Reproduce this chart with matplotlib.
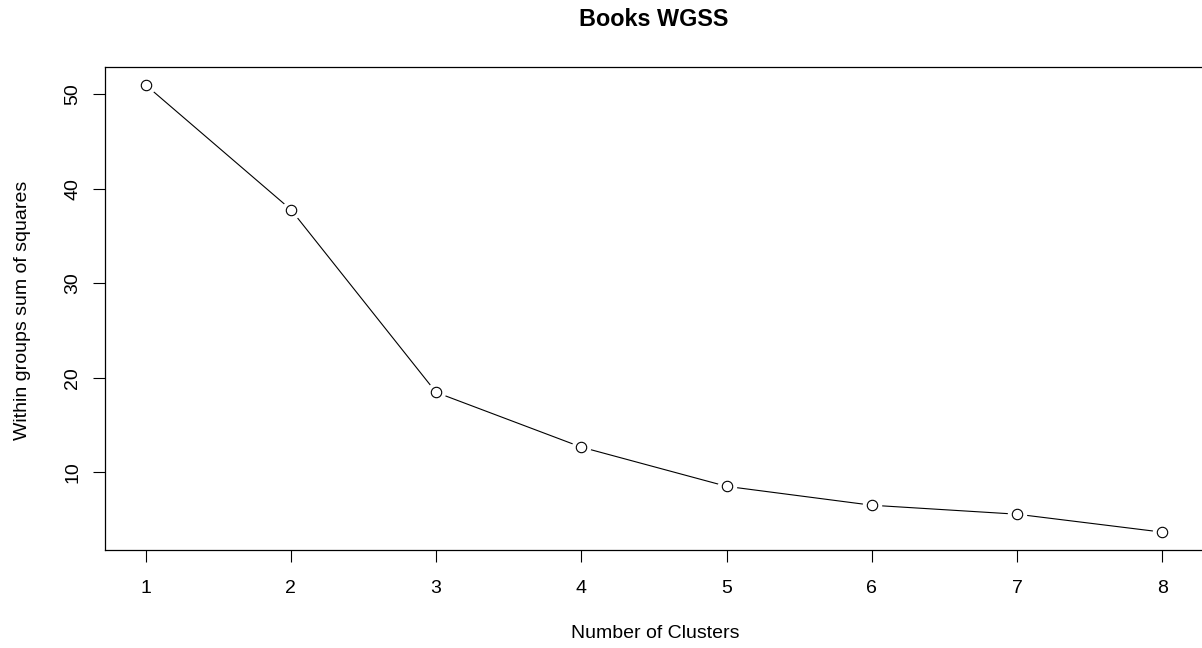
import numpy as np
import matplotlib.pyplot as plt

plt.rcParams['font.family'] = ['Liberation Sans', 'DejaVu Sans']

# data
clusters = [1, 2, 3, 4, 5, 6, 7, 8]
wgss = [51.0, 37.8, 18.45, 12.65, 8.5, 6.5, 5.55, 3.65]

W, H = 1202, 648
fig = plt.figure(figsize=(W / 100, H / 100), dpi=100)
# plot region in pixels: left 105, top 67, bottom 550, right just past the image edge
ax = fig.add_axes([105 / W, (H - 550) / H, 1098 / W, 483 / H])

# R style type="b": line with gaps around the open circles
ax.plot(clusters, wgss, color='black', lw=0.8, zorder=2)
ax.plot(clusters, wgss, ls='none', marker='o', ms=14, mfc='white', mec='none', zorder=3)
ax.plot(clusters, wgss, ls='none', marker='o', ms=7.5, mfc='white', mec='black', mew=0.8, zorder=4)

ax.set_xlim(0.72, 8.28)
ax.set_ylim(1.76, 52.9)
ax.set_xticks(clusters)
ax.set_yticks([10, 20, 30, 40, 50])
ax.tick_params(direction='out', length=8.6, width=0.8, labelsize=14, color='black')
ax.tick_params(axis='x', pad=13)
ax.tick_params(axis='y', pad=8.5)
for lab in ax.get_yticklabels():
    lab.set_rotation(90)
    lab.set_va('center')
for s in ax.spines.values():
    s.set_linewidth(0.9)
    s.set_color('black')

fig.text(654 / W, (H - 26) / H, 'Books WGSS', fontsize=16.8, fontweight='bold',
         ha='center', va='baseline')
fig.text(655 / W, (H - 638) / H, 'Number of Clusters', fontsize=14,
         ha='center', va='baseline')
fig.text(27 / W, (H - 310) / H, 'Within groups sum of squares', fontsize=14,
         rotation=90, rotation_mode='anchor', ha='center', va='baseline')

plt.savefig('out.png', dpi=100)
